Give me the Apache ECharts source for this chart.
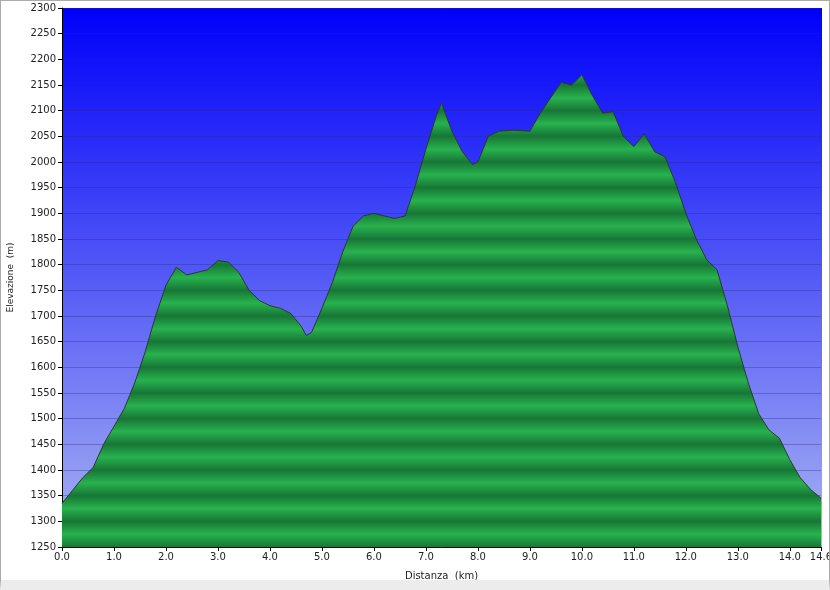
<!DOCTYPE html>
<html><head><meta charset="utf-8">
<script src="https://cdn.jsdelivr.net/npm/echarts@6/dist/echarts.min.js"></script>
<style>html,body{margin:0;padding:0;background:#fff}#c{width:830px;height:590px;box-sizing:border-box;border:1px solid #aaa;border-bottom:10px solid #ececec}</style>
</head><body><div id="c"></div>
<script>
const distances=[0,0.2,0.4,0.6,0.8,1.0,1.2,1.4,1.6,1.8,2.0,2.2,2.4,2.6,2.8,3.0,3.2,3.4,3.6,3.8,4.0,4.2,4.4,4.6,4.7,4.8,5.0,5.2,5.4,5.6,5.8,6.0,6.2,6.4,6.6,6.8,7.0,7.2,7.3,7.5,7.7,7.9,8.0,8.2,8.4,8.7,9.0,9.2,9.4,9.6,9.8,10.0,10.2,10.4,10.6,10.8,11.0,11.2,11.4,11.6,11.8,12.0,12.2,12.4,12.6,12.8,13.0,13.2,13.4,13.6,13.8,14.0,14.2,14.4,14.6];
const elevations=[1335,1360,1385,1405,1450,1485,1520,1570,1630,1700,1760,1795,1780,1785,1790,1808,1805,1785,1750,1730,1720,1715,1705,1680,1662,1668,1715,1765,1825,1875,1895,1900,1895,1890,1895,1955,2025,2090,2115,2060,2020,1995,2000,2050,2060,2062,2060,2095,2125,2155,2150,2170,2130,2095,2098,2050,2030,2055,2020,2010,1960,1900,1850,1810,1790,1720,1640,1570,1510,1478,1462,1420,1385,1362,1345];
const yMin=1250,yMax=2300,yStep=50;
const plotTop=7,plotBottom=546;
const n=(yMax-yMin)/yStep;
const stops=[];
for(let k=0;k<n;k++){stops.push({offset:k/n,color:'#177636'});stops.push({offset:(k+0.5)/n,color:'#28b24e'});}
stops.push({offset:1,color:'#177636'});
const chart=echarts.init(document.getElementById('c'));
chart.setOption({
 animation:false,
 grid:{left:61,right:8,top:7,bottom:33,outerBoundsMode:'none',containLabel:false},
 xAxis:{type:'value',min:0,max:14.6,interval:1,name:'Distanza  (km)',nameLocation:'middle',nameGap:24,
  nameTextStyle:{fontFamily:'DejaVu Sans',fontSize:10,color:'#222'},
  axisLine:{lineStyle:{color:'#000'}},axisTick:{length:4,lineStyle:{color:'#000'}},splitLine:{show:false},
  axisLabel:{fontFamily:'DejaVu Sans',fontSize:10,color:'#222',showMaxLabel:true,margin:5,hideOverlap:false,
   formatter:v=>v.toFixed(1)}},
 yAxis:{type:'value',min:yMin,max:yMax,interval:yStep,name:'Elevazione  (m)',nameLocation:'middle',nameGap:47,
  nameTextStyle:{fontFamily:'DejaVu Sans',fontSize:9,color:'#222'},
  axisLine:{show:true,lineStyle:{color:'#000'}},axisTick:{show:true,length:4,lineStyle:{color:'#000'}},
  splitLine:{lineStyle:{color:'rgba(40,40,140,0.35)',width:1}},
  axisLabel:{fontFamily:'DejaVu Sans',fontSize:10,color:'#222',margin:6,formatter:v=>String(v)}},
 graphic:[{type:'rect',z:-1,shape:{x:61,y:7,width:760,height:539},
  style:{fill:new echarts.graphic.LinearGradient(0,0,0,1,[{offset:0,color:'#0000fa'},{offset:1,color:'#a8b4f2'}])}}],
 series:[{type:'line',data:distances.map((d,i)=>[d,elevations[i]]),symbol:'none',smooth:false,
  lineStyle:{color:'#2a3a2a',width:1},
  areaStyle:{opacity:1,color:{type:'linear',x:0,y:plotTop,x2:0,y2:plotBottom,global:true,colorStops:stops}}}]
});
</script></body></html>
